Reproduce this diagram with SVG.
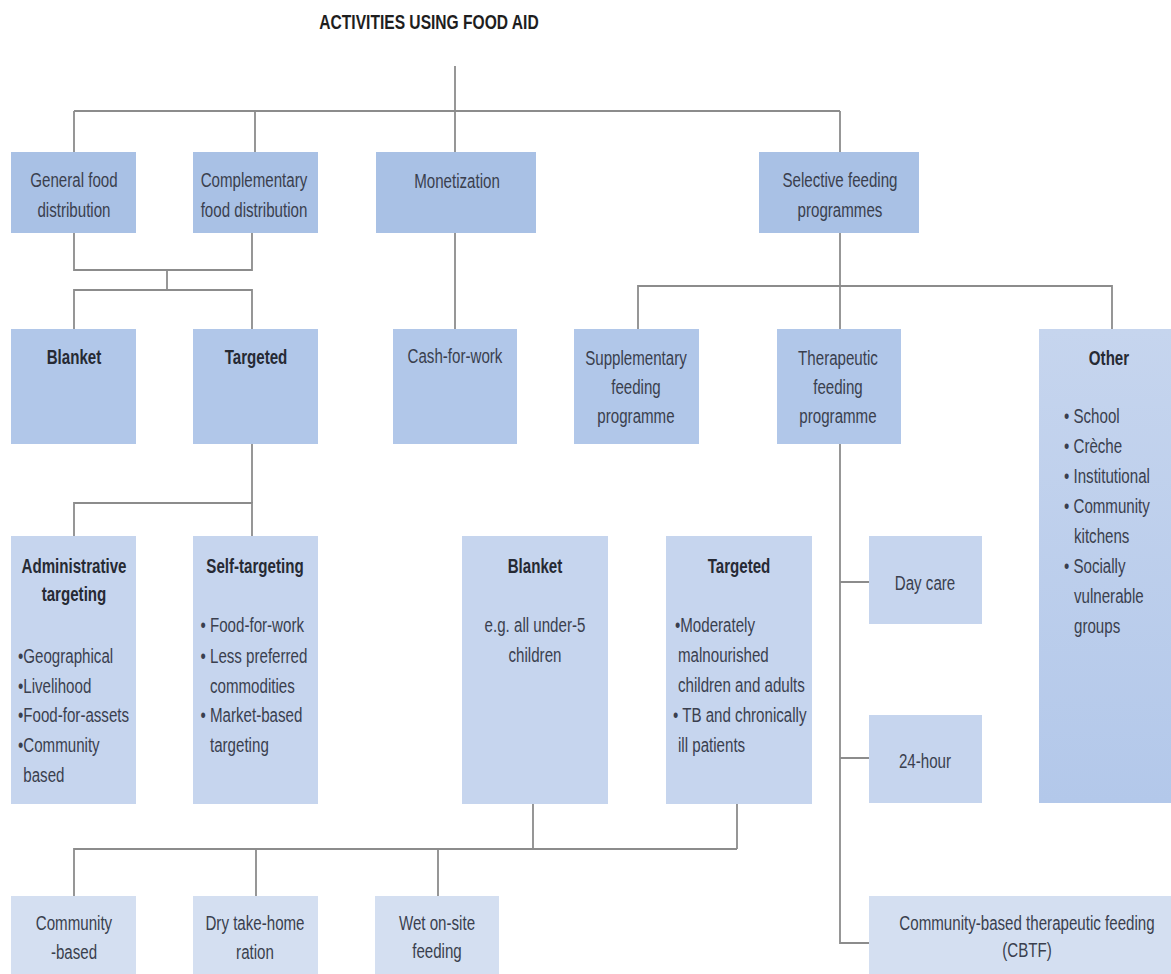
<svg xmlns="http://www.w3.org/2000/svg" width="1171" height="974" viewBox="0 0 1171 974">
<style>
.l1{fill:#a9c1e5}
.l2{fill:#b1c7e9}
.l3{fill:#c6d5ee}
.l4{fill:#d4dff1}
.t{font-family:"Liberation Sans",Arial,sans-serif;font-size:21px;fill:#3a3f4e}
.c{text-anchor:middle}
.b{font-weight:bold;fill:#262a34}
.conn{fill:none;stroke:#8c8c8c;stroke-width:1.8}
</style>
<defs>
<linearGradient id="og" x1="0" y1="0" x2="0" y2="1">
<stop offset="0" stop-color="#c6d5ee"/>
<stop offset="1" stop-color="#b3c8ea"/>
</linearGradient>
</defs>
<rect width="1171" height="974" fill="#ffffff"/>

<g id="title">
<text class="t b c" transform="translate(429 29) scale(0.78 1)" x="0" y="0" style="font-size:20px;fill:#1e1e1e">ACTIVITIES USING FOOD AID</text>
</g>

<g id="connectors" class="conn">
<path d="M455,66 V111"/>
<path d="M74,111 H840"/>
<path d="M74,111 V152 M255,111 V152 M455,111 V152 M840,111 V152"/>
<path d="M74,233 V270 H252 V233"/>
<path d="M167,270 V290"/>
<path d="M74,329 V290 H252 V329"/>
<path d="M455,233 V329"/>
<path d="M840,233 V329"/>
<path d="M638,329 V286 H1112 V329"/>
<path d="M252,444 V503"/>
<path d="M74,536 V503 H252 V536"/>
<path d="M533,804 V849 M737,804 V849"/>
<path d="M74,896 V849 H737"/>
<path d="M256,849 V896 M438,849 V896"/>
<path d="M840,444 V943 H869"/>
<path d="M840,582 H869 M840,758 H869"/>
</g>

<g id="general">
<rect class="l1" x="11" y="152" width="125" height="81"/>
<g transform="scale(0.72 1)">
<text class="t c" x="102.78" y="187">General food</text>
<text class="t c" x="102.78" y="217">distribution</text>
</g>
</g>

<g id="complementary">
<rect class="l1" x="193" y="152" width="125" height="81"/>
<g transform="scale(0.72 1)">
<text class="t c" x="352.78" y="187">Complementary</text>
<text class="t c" x="352.78" y="217">food distribution</text>
</g>
</g>

<g id="monetization">
<rect class="l1" x="376" y="152" width="160" height="81"/>
<g transform="scale(0.72 1)">
<text class="t c" x="634.72" y="188">Monetization</text>
</g>
</g>

<g id="selective">
<rect class="l1" x="759" y="152" width="160" height="81"/>
<g transform="scale(0.72 1)">
<text class="t c" x="1166.67" y="187">Selective feeding</text>
<text class="t c" x="1166.67" y="217">programmes</text>
</g>
</g>

<g id="blanket1">
<rect class="l2" x="11" y="329" width="125" height="115"/>
<g transform="scale(0.72 1)">
<text class="t b c" x="102.78" y="364">Blanket</text>
</g>
</g>

<g id="targeted1">
<rect class="l2" x="193" y="329" width="125" height="115"/>
<g transform="scale(0.72 1)">
<text class="t b c" x="355.56" y="364">Targeted</text>
</g>
</g>

<g id="cashforwork">
<rect class="l2" x="393" y="329" width="124" height="115"/>
<g transform="scale(0.72 1)">
<text class="t c" x="631.94" y="363">Cash-for-work</text>
</g>
</g>

<g id="supplementary">
<rect class="l2" x="574" y="329" width="125" height="115"/>
<g transform="scale(0.72 1)">
<text class="t c" x="883.33" y="365">Supplementary</text>
<text class="t c" x="883.33" y="394">feeding</text>
<text class="t c" x="883.33" y="423">programme</text>
</g>
</g>

<g id="therapeutic">
<rect class="l2" x="777" y="329" width="124" height="115"/>
<g transform="scale(0.72 1)">
<text class="t c" x="1163.89" y="365">Therapeutic</text>
<text class="t c" x="1163.89" y="394">feeding</text>
<text class="t c" x="1163.89" y="423">programme</text>
</g>
</g>

<g id="other">
<rect x="1039" y="329" width="132" height="474" fill="url(#og)"/>
<g transform="scale(0.72 1)">
<text class="t b c" x="1540.28" y="365">Other</text>
<text class="t" x="1477.78" y="423">• School</text>
<text class="t" x="1477.78" y="453">• Crèche</text>
<text class="t" x="1477.78" y="483">• Institutional</text>
<text class="t" x="1477.78" y="513">• Community</text>
<text class="t" x="1491.67" y="543">kitchens</text>
<text class="t" x="1477.78" y="573">• Socially</text>
<text class="t" x="1491.67" y="603">vulnerable</text>
<text class="t" x="1491.67" y="633">groups</text>
</g>
</g>

<g id="administrative">
<rect class="l3" x="11" y="536" width="125" height="268"/>
<g transform="scale(0.72 1)">
<text class="t b c" x="102.78" y="573">Administrative</text>
<text class="t b c" x="102.78" y="601">targeting</text>
<text class="t" x="25" y="663">•Geographical</text>
<text class="t" x="25" y="693">•Livelihood</text>
<text class="t" x="25" y="722">•Food-for-assets</text>
<text class="t" x="25" y="752">•Community</text>
<text class="t" x="32.36" y="782">based</text>
</g>
</g>

<g id="selftargeting">
<rect class="l3" x="193" y="536" width="125" height="268"/>
<g transform="scale(0.72 1)">
<text class="t b c" x="354.17" y="573">Self-targeting</text>
<text class="t" x="278.47" y="632">• Food-for-work</text>
<text class="t" x="278.47" y="663">• Less preferred</text>
<text class="t" x="291.67" y="693">commodities</text>
<text class="t" x="278.47" y="722">• Market-based</text>
<text class="t" x="291.67" y="752">targeting</text>
</g>
</g>

<g id="blanket2">
<rect class="l3" x="462" y="536" width="146" height="268"/>
<g transform="scale(0.72 1)">
<text class="t b c" x="743.06" y="573">Blanket</text>
<text class="t c" x="743.06" y="632">e.g. all under-5</text>
<text class="t c" x="743.06" y="662">children</text>
</g>
</g>

<g id="targeted2">
<rect class="l3" x="666" y="536" width="146" height="268"/>
<g transform="scale(0.72 1)">
<text class="t b c" x="1026.39" y="573">Targeted</text>
<text class="t" x="937.5" y="632">•Moderately</text>
<text class="t" x="941.67" y="662">malnourished</text>
<text class="t" x="941.67" y="692">children and adults</text>
<text class="t" x="934.72" y="722">• TB and chronically</text>
<text class="t" x="941.67" y="752">ill patients</text>
</g>
</g>

<g id="daycare">
<rect class="l3" x="869" y="536" width="113" height="88"/>
<g transform="scale(0.72 1)">
<text class="t c" x="1284.72" y="590">Day care</text>
</g>
</g>

<g id="hour24">
<rect class="l3" x="869" y="715" width="113" height="88"/>
<g transform="scale(0.72 1)">
<text class="t c" x="1284.72" y="768">24-hour</text>
</g>
</g>

<g id="communitybased">
<rect class="l4" x="11" y="896" width="125" height="78"/>
<g transform="scale(0.72 1)">
<text class="t c" x="102.78" y="930">Community</text>
<text class="t c" x="102.78" y="959">-based</text>
</g>
</g>

<g id="drytakehome">
<rect class="l4" x="193" y="896" width="125" height="78"/>
<g transform="scale(0.72 1)">
<text class="t c" x="354.17" y="930">Dry take-home</text>
<text class="t c" x="354.17" y="959">ration</text>
</g>
</g>

<g id="wetonsite">
<rect class="l4" x="375" y="896" width="124" height="78"/>
<g transform="scale(0.72 1)">
<text class="t c" x="606.94" y="930">Wet on-site</text>
<text class="t c" x="606.94" y="958">feeding</text>
</g>
</g>

<g id="cbtf">
<rect class="l4" x="869" y="896" width="302" height="78"/>
<g transform="scale(0.72 1)">
<text class="t c" x="1426.39" y="930">Community-based therapeutic feeding</text>
<text class="t c" x="1426.39" y="957">(CBTF)</text>
</g>
</g>
</svg>
